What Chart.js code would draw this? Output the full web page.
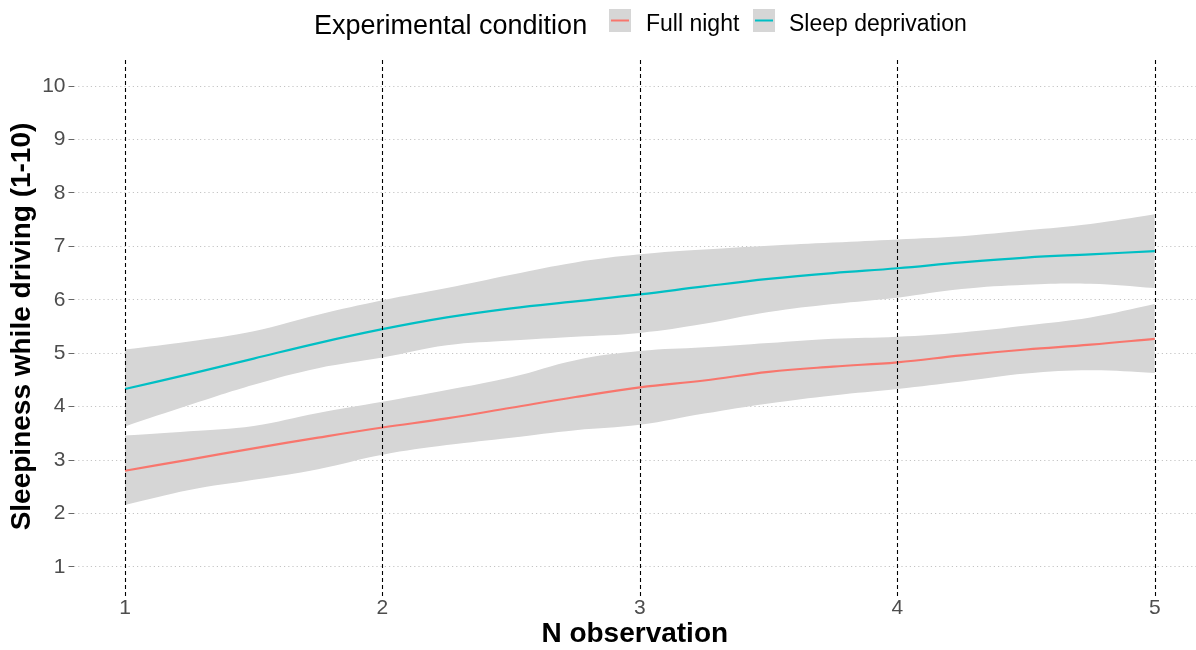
<!DOCTYPE html>
<html>
<head>
<meta charset="utf-8">
<script src="https://cdn.jsdelivr.net/npm/chart.js@4"></script>
<style>
  html, body { margin: 0; padding: 0; background: #fff; }
  #wrap { width: 1196px; height: 650px; position: relative; }
</style>
</head>
<body>
<div id="wrap"><canvas id="myChart" width="1196" height="650"></canvas></div>
<script>
// observation points the smooth was read at
const obs = [1, 1.25, 1.5, 1.75, 2, 2.25, 2.5, 2.75, 3, 3.25, 3.5, 3.75, 4, 4.25, 4.5, 4.75, 5];

// Full night: fitted line and confidence band
const fullNight      = [2.80, 3.01, 3.22, 3.42, 3.61, 3.78, 3.98, 4.18, 4.36, 4.49, 4.65, 4.75, 4.83, 4.96, 5.07, 5.16, 5.27];
const fullNightUpper = [3.46, 3.54, 3.64, 3.88, 4.09, 4.31, 4.55, 4.87, 5.04, 5.11, 5.19, 5.27, 5.31, 5.39, 5.52, 5.67, 5.92];
const fullNightLower = [2.16, 2.44, 2.63, 2.83, 3.10, 3.28, 3.42, 3.56, 3.66, 3.87, 4.06, 4.21, 4.33, 4.47, 4.62, 4.68, 4.63];

// Sleep deprivation: fitted line and confidence band
const sleepDep      = [4.33, 4.61, 4.90, 5.19, 5.45, 5.67, 5.84, 5.97, 6.10, 6.25, 6.39, 6.50, 6.59, 6.70, 6.79, 6.85, 6.91];
const sleepDepUpper = [5.07, 5.22, 5.41, 5.72, 5.99, 6.22, 6.47, 6.70, 6.85, 6.94, 7.01, 7.07, 7.13, 7.19, 7.30, 7.42, 7.60];
const sleepDepLower = [3.63, 4.03, 4.41, 4.72, 4.92, 5.15, 5.24, 5.31, 5.38, 5.55, 5.77, 5.92, 6.04, 6.20, 6.28, 6.30, 6.22];

const xTicks = [1, 2, 3, 4, 5];
const yTicks = [1, 2, 3, 4, 5, 6, 7, 8, 9, 10];

const legendTitle = "Experimental condition";
const seriesNames = ["Full night", "Sleep deprivation"];
const seriesColors = ["#F8766D", "#00BFC4"];
const bandColor = "#d6d6d6";
const fontFam = "'Liberation Sans', Arial, sans-serif";

function pts(ys) {
    return ys.map(function(v, i) { return { x: obs[i], y: v }; });
}

function bandSet(ys, fill) {
    return {
        data: pts(ys),
        borderWidth: 0,
        pointRadius: 0,
        backgroundColor: bandColor,
        fill: fill,
        tension: 0.4,
        order: 2
    };
}

function lineSet(ys, color, name) {
    return {
        label: name,
        data: pts(ys),
        borderColor: color,
        borderWidth: 2.2,
        pointRadius: 0,
        fill: false,
        tension: 0.4,
        order: 0
    };
}

// dashed vertical lines at every x tick, drawn over the bands like geom_vline
const vlines = {
    id: 'vlines',
    afterDatasetsDraw(chart) {
        const ctx = chart.ctx;
        const area = chart.chartArea;
        const xs = chart.scales.x;
        ctx.save();
        ctx.strokeStyle = '#000';
        ctx.lineWidth = 1.1;
        ctx.setLineDash([4, 3]);
        xs.ticks.forEach(function(t) {
            const px = Math.round(xs.getPixelForValue(t.value)) + 0.5;
            ctx.beginPath();
            ctx.moveTo(px, area.top - 2);
            ctx.lineTo(px, area.bottom + 6);
            ctx.stroke();
        });
        ctx.restore();
    }
};

// ggplot style legend across the top
const topLegend = {
    id: 'topLegend',
    afterDraw(chart) {
        const ctx = chart.ctx;
        ctx.save();
        ctx.fillStyle = '#000';
        ctx.textBaseline = 'alphabetic';
        ctx.font = "27px " + fontFam;
        ctx.fillText(legendTitle, 314, 34);
        const keyX = [609, 753];
        const textX = [646, 789];
        ctx.font = "23px " + fontFam;
        for (let i = 0; i < seriesNames.length; i++) {
            ctx.fillStyle = bandColor;
            ctx.fillRect(keyX[i], 9, 22, 23);
            ctx.strokeStyle = seriesColors[i];
            ctx.lineWidth = 2;
            ctx.beginPath();
            ctx.moveTo(keyX[i] + 2, 20.5);
            ctx.lineTo(keyX[i] + 20, 20.5);
            ctx.stroke();
            ctx.fillStyle = '#000';
            ctx.fillText(seriesNames[i], textX[i], 31);
        }
        ctx.restore();
    }
};

const ctx = document.getElementById('myChart').getContext('2d');
const myChart = new Chart(ctx, {
    type: 'line',
    data: {
        datasets: [
            bandSet(fullNightUpper, '+1'),
            bandSet(fullNightLower, false),
            bandSet(sleepDepUpper, '+1'),
            bandSet(sleepDepLower, false),
            lineSet(fullNight, seriesColors[0], seriesNames[0]),
            lineSet(sleepDep, seriesColors[1], seriesNames[1])
        ]
    },
    options: {
        responsive: false,
        animation: false,
        layout: { padding: { top: 62, left: 0, right: 0, bottom: 0 } },
        plugins: {
            legend: { display: false },
            tooltip: { enabled: false }
        },
        scales: {
            x: {
                type: 'linear',
                min: 0.8,
                max: 5.16,
                afterFit: function(scale) { scale.height = 59; },
                afterBuildTicks: function(scale) {
                    scale.ticks = xTicks.map(function(v) { return { value: v }; });
                },
                grid: { display: false, drawTicks: false },
                border: { display: false },
                ticks: {
                    color: '#4d4d4d',
                    font: { family: fontFam, size: 21 },
                    padding: 5,
                    maxRotation: 0
                },
                title: {
                    display: true,
                    text: 'N observation',
                    color: '#000',
                    font: { family: fontFam, size: 28, weight: 'bold', lineHeight: 1.15 },
                    padding: 0
                }
            },
            y: {
                type: 'linear',
                min: 0.55,
                max: 10.45,
                afterFit: function(scale) { scale.width = 73.5; },
                afterBuildTicks: function(scale) {
                    scale.ticks = yTicks.map(function(v) { return { value: v }; });
                },
                grid: {
                    color: '#c4c4c4',
                    lineWidth: 1,
                    tickLength: 5,
                    tickColor: '#666',
                    tickBorderDash: [],
                    tickWidth: 1
                },
                border: { display: false, dash: [1.2, 3] },
                ticks: {
                    color: '#4d4d4d',
                    font: { family: fontFam, size: 21 },
                    padding: 3
                },
                title: {
                    display: true,
                    text: 'Sleepiness while driving (1-10)',
                    color: '#000',
                    font: { family: fontFam, size: 28, weight: 'bold', lineHeight: 1.2 },
                    padding: { top: 5, bottom: 0 }
                }
            }
        }
    },
    plugins: [vlines, topLegend]
});
</script>
</body>
</html>
